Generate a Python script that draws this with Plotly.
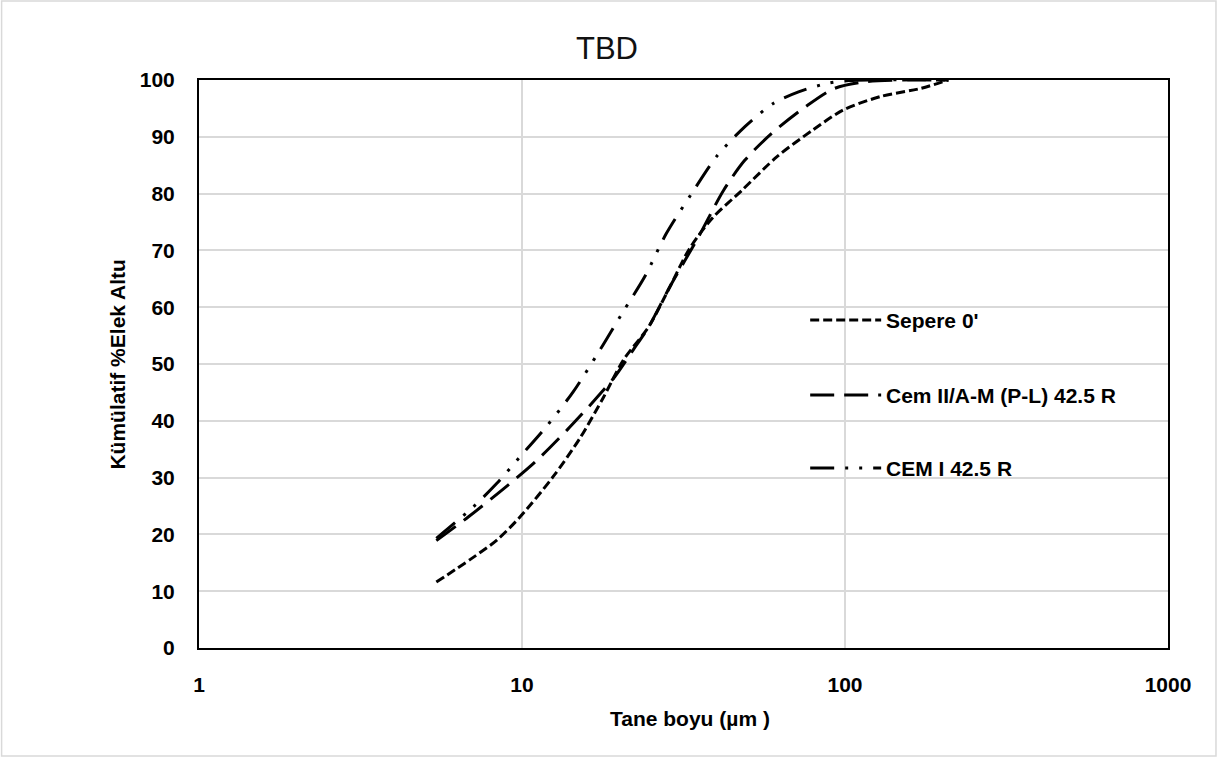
import plotly.graph_objects as go

FONT = "Liberation Sans, Arial, sans-serif"

# ---- data ----
sepere_x = [5.43, 6.92, 8.36, 9.87, 12.5, 15.1, 17.9, 20.6, 24.7, 28.7, 33.0, 39.0, 47.8, 61.6, 79.5, 98.6, 129, 171, 209]
sepere_y = [11.6, 15.6, 19.0, 23.1, 30.2, 36.9, 44.2, 50.7, 56.6, 63.6, 70.3, 75.8, 80.5, 86.5, 91.2, 94.7, 97.1, 98.5, 100]

cem2_x = [5.43, 6.83, 8.67, 11.0, 13.8, 17.0, 19.4, 22.1, 24.7, 28.7, 35.2, 42.1, 49.0, 59.3, 75.5, 92.6, 116, 150, 209]
cem2_y = [18.9, 23.1, 27.8, 32.8, 38.4, 44.0, 47.8, 52.5, 56.6, 63.6, 72.4, 80.6, 85.9, 90.6, 95.3, 98.5, 99.7, 100, 100]

cem1_x = [5.43, 7.08, 8.36, 9.87, 11.9, 14.4, 17.4, 20.4, 24.0, 28.0, 33.5, 40.0, 49.0, 60.1, 71.8, 87.9, 103, 209]
cem1_y = [19.3, 24.9, 29.0, 33.7, 39.0, 45.1, 52.4, 58.9, 65.4, 73.0, 80.0, 86.5, 91.8, 95.9, 97.9, 99.4, 99.9, 100]

names = ["Sepere 0'", "Cem II/A-M (P-L) 42.5 R", "CEM I 42.5 R"]
dashes = ["9px,4px", "24px,10px", "24px,11px,3px,11px,3px,11px"]

x_tickvals = [1, 10, 100, 1000]
x_ticktext = ["1", "10", "100", "1000"]
y_tickvals = [0, 10, 20, 30, 40, 50, 60, 70, 80, 90, 100]

fig = go.Figure()
series = [(sepere_x, sepere_y), (cem2_x, cem2_y), (cem1_x, cem1_y)]
for (xs, ys), nm, ds in zip(series, names, dashes):
    fig.add_trace(go.Scatter(x=xs, y=ys, mode="lines", name=nm, showlegend=False,
                             line=dict(color="black", width=3, dash=ds, shape="spline", smoothing=0.8)))

# plot area in px: left 198.5, right 1168, top 80, bottom 648
L, R, T, B = 198.5, 1168, 80, 648
def px(xp):
    return (xp - L) / (R - L)
def py(yp):
    return (B - yp) / (B - T)

shapes = []
annotations = []
# manual legend
leg_y = [320, 395, 468]
for nm, ds, yy in zip(names, dashes, leg_y):
    shapes.append(dict(type="line", xref="paper", yref="paper",
                       x0=px(810), x1=px(881), y0=py(yy), y1=py(yy),
                       line=dict(color="black", width=3, dash=ds)))
    annotations.append(dict(text=nm, xref="paper", yref="paper", x=px(884), y=py(yy),
                            xanchor="left", yanchor="middle", showarrow=False,
                            font=dict(family=FONT, size=21, color="black", weight="bold")))

# outer chart border
shapes.append(dict(type="rect", xref="paper", yref="paper",
                   x0=px(1), x1=px(1216), y0=py(1), y1=py(756),
                   line=dict(color="#d9d9d9", width=1.5), fillcolor="rgba(0,0,0,0)", layer="below"))

# axis titles
annotations.append(dict(text="Tane boyu (µm )", xref="paper", yref="paper", x=px(690), y=py(718),
                        xanchor="center", yanchor="middle", showarrow=False,
                        font=dict(family=FONT, size=21, color="black", weight="bold")))
annotations.append(dict(text="Kümülatif %Elek Altu", xref="paper", yref="paper", x=px(116), y=py(365),
                        xanchor="center", yanchor="middle", showarrow=False, textangle=-90,
                        font=dict(family=FONT, size=21, color="black", weight="bold")))

fig.update_layout(
    width=1222, height=758,
    margin=dict(l=L, r=1222 - R, t=T, b=758 - B, pad=0),
    paper_bgcolor="white", plot_bgcolor="white",
    title=dict(text="TBD", x=607 / 1222, xanchor="center", y=1 - 48 / 758, yanchor="middle",
               font=dict(family=FONT, size=31, color="#111111")),
    shapes=shapes, annotations=annotations,
    showlegend=False,
)
fig.update_xaxes(type="log", range=[0, 3], tickvals=x_tickvals, ticktext=x_ticktext,
                 showgrid=True, gridcolor="#d9d9d9", gridwidth=1.5,
                 showline=True, linecolor="black", linewidth=2, mirror=True,
                 ticks="", ticklabelstandoff=17,
                 tickfont=dict(family=FONT, size=21, color="black", weight="bold"))
fig.update_yaxes(range=[0, 100], tickvals=y_tickvals,
                 showgrid=True, gridcolor="#d9d9d9", gridwidth=1.5,
                 showline=True, linecolor="black", linewidth=2, mirror=True,
                 ticks="", ticklabelstandoff=18, zeroline=False,
                 tickfont=dict(family=FONT, size=21, color="black", weight="bold"))

fig.write_html("out.html")
